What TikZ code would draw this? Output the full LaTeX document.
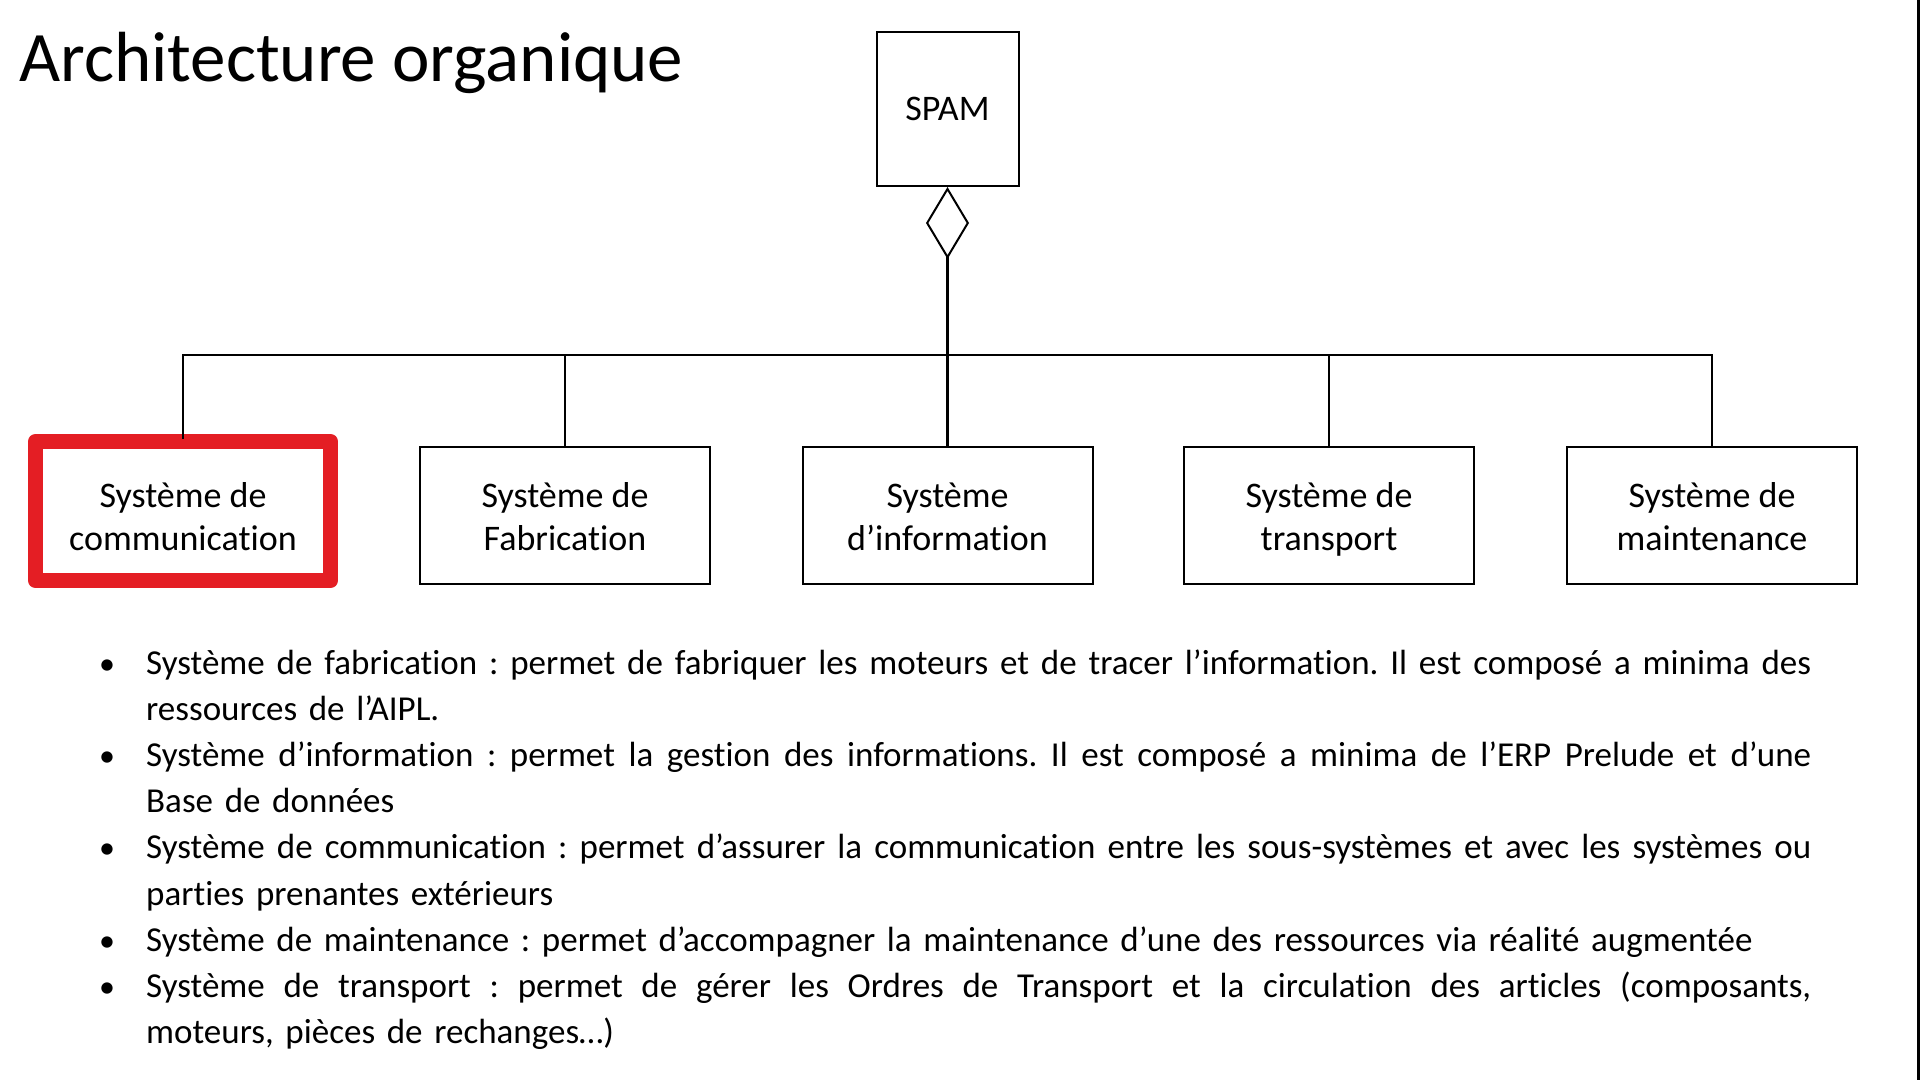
\documentclass[tikz,border=0pt]{standalone}
\usepackage{fontspec}
\setmainfont{Carlito}[Ligatures={NoCommon}]
\usetikzlibrary{arrows.meta,calc}
\definecolor{hlred}{RGB}{228,30,36}
\hbadness=10000
\hfuzz=200pt
\frenchspacing
\newcommand{\jline}[1]{\hbox to 1665pt{\spaceskip=.226em plus 1em minus .06em\relax #1}}
\newcommand{\boxtop}{\rule{0pt}{36pt}}
\newcommand{\boxbot}{\rule[-9.4pt]{0pt}{9.4pt}}
\begin{document}
\begin{tikzpicture}[x=1pt,y=-1pt,
  box/.style={draw, line width=2pt, minimum width=290pt, minimum height=137pt, inner sep=0pt, align=center, font=\fontsize{36}{43}\selectfont},
  redframe/.style={draw=hlred, line width=15pt, line join=round},
  link/.style={line width=2.8pt},
  itemtext/.style={anchor=base west, inner sep=0pt, text width=1700pt, align=left, font=\fontsize{35}{46.2}\selectfont},
  dot/.style={anchor=base, inner sep=0pt, font=\fontsize{32}{46.2}\selectfont}
]
\useasboundingbox (0,0) rectangle (1920,1080);
\fill[white] (0,0) rectangle (1920,1080);
\fill[black] (1917,0) rectangle (1920,1080);

\node[anchor=base west, inner sep=0pt, font=\fontsize{71}{80}\selectfont] (title) at (19,81) {Architecture organique};

\node[box, minimum width=142pt, minimum height=154pt] (spam) at (947.5,109) {SPAM};

\node[box, draw=none] (b1) at (183,515.5) {\boxtop Système de\\communication\boxbot};
\node[box] (b2) at (565,515.5) {\boxtop Système de\\Fabrication\boxbot};
\node[box] (b3) at (947.5,515.5) {\boxtop Système\\d’information\boxbot};
\node[box] (b4) at (1329,515.5) {\boxtop Système de\\transport\boxbot};
\node[box] (b5) at (1712,515.5) {\boxtop Système de\\maintenance\boxbot};
\draw[redframe] ($(b1.center)+(-147.5,-74)$) rectangle ($(b1.center)+(147.5,65)$);

\coordinate (bus) at (947.5,355);
\draw[link, {Diamond[open, length=72pt, width=43pt, line width=2pt]}-] (spam.south) -- (b3.north);
\draw[link] ($(b1.north)+(0,-7)$) -- (b1.north |- bus) -- (b5.north |- bus) -- (b5.north);
\draw[link] (b2.north) -- (b2.north |- bus);
\draw[link] (b4.north) -- (b4.north |- bus);

\node[dot] (d1) at (107,674) {•};
\node[itemtext] (t1) at (146,674) {\jline{Système de fabrication : permet de fabriquer les moteurs et de tracer l’information. Il est composé a minima des}\\ressources de l’AIPL.};
\node[dot] (d2) at (107,766.4) {•};
\node[itemtext] (t2) at (146,766.4) {\jline{Système d’information : permet la gestion des informations. Il est composé a minima de l’ERP Prelude et d’une}\\Base de données};
\node[dot] (d3) at (107,858.8) {•};
\node[itemtext] (t3) at (146,858.8) {\jline{Système de communication : permet d’assurer la communication entre les sous-systèmes et avec les systèmes ou}\\parties prenantes extérieurs};
\node[dot] (d4) at (107,951.2) {•};
\node[itemtext] (t4) at (146,951.2) {Système de maintenance : permet d’accompagner la maintenance d’une des ressources via réalité augmentée};
\node[dot] (d5) at (107,997.4) {•};
\node[itemtext] (t5) at (146,997.4) {\jline{Système de transport : permet de gérer les Ordres de Transport et la circulation des articles (composants,}\\moteurs, pièces de rechanges…)};
\end{tikzpicture}
\end{document}
